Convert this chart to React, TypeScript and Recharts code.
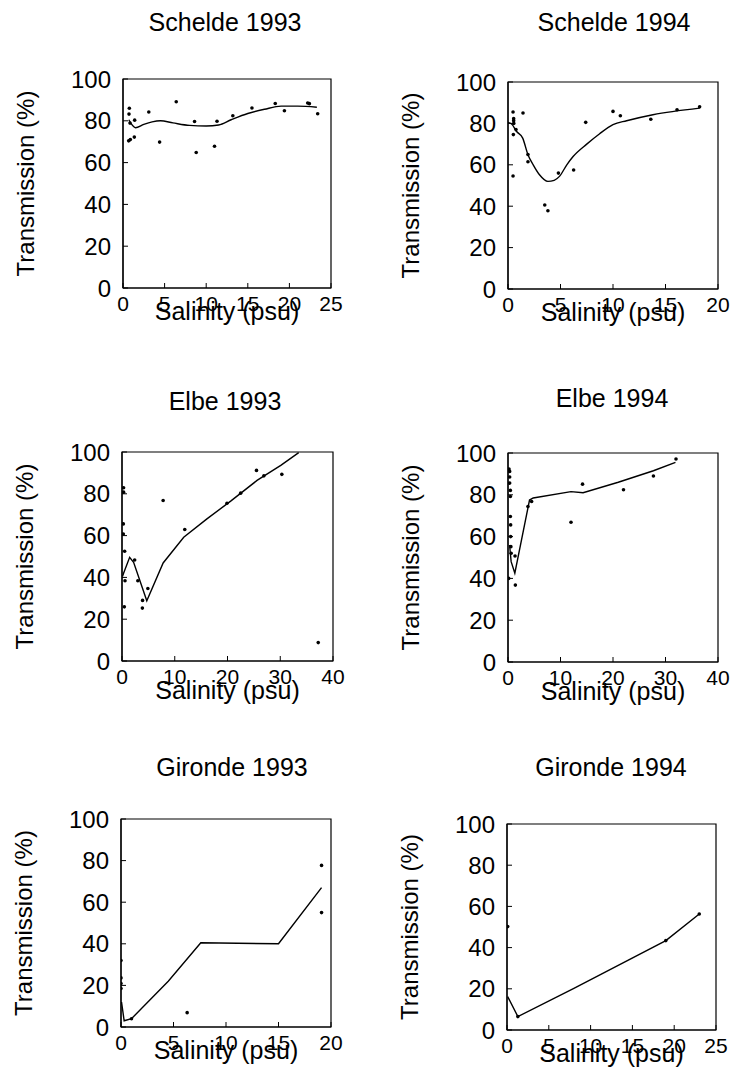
import React from "react";
import {
  ComposedChart, Scatter, Line, XAxis, YAxis, ReferenceArea, Label,
} from "recharts";

const SCHELDE_1993_OBS = [
  [0.76, 86], [0.72, 83.2], [0.84, 78.9], [0.68, 70.4], [0.88, 71], [1.4, 80.3],
  [1.36, 72.2], [3.1, 84.2], [4.4, 69.8], [6.4, 89.1], [8.6, 79.7], [8.8, 64.8],
  [11.3, 79.8], [11.0, 67.8], [13.2, 82.4], [15.5, 86.1], [18.3, 88.3], [19.4, 84.8],
  [22.2, 88.5], [22.4, 88.2], [23.4, 83.4],
];
const SCHELDE_1993_FIT = [
  [0.7, 80.5], [1.0, 78.5], [1.5, 76.7], [2.5, 78.3], [3.5, 79.5], [4.5, 80],
  [6, 79], [8, 77.8], [10, 77.5], [11.5, 78], [13, 80.5], [15, 83.5], [17, 85.5],
  [19, 87], [21, 87], [23.3, 86.5],
];

const SCHELDE_1994_OBS = [
  [0.48, 85.5], [0.54, 82.3], [0.54, 81.3], [0.55, 80], [0.51, 74.6], [0.48, 54.6],
  [0.76, 77], [1.43, 85], [1.9, 65], [1.9, 61.5], [3.5, 40.6], [3.8, 37.8],
  [4.8, 56], [6.25, 57.5], [7.4, 80.5], [10.0, 85.8], [10.7, 83.7], [13.6, 82],
  [16.1, 86.6], [18.25, 88],
];
const SCHELDE_1994_FIT = [
  [0, 80.5], [0.4, 79.4], [0.8, 76.2], [1.4, 72.9], [1.9, 64.9], [2.4, 60], [3.0, 55.2],
  [3.8, 52], [4.4, 52.5], [4.9, 54.4], [5.6, 60], [6.2, 64], [7.5, 70], [8.7, 74.9],
  [10, 79.4], [11.3, 81.3], [13.8, 84.2], [18.25, 87.4],
];

const ELBE_1993_OBS = [
  [0.3, 82.9], [0.3, 80.8], [0.25, 65.6], [0.25, 60.8], [0.5, 52.5], [0.57, 38.4],
  [0.44, 25.9], [2.4, 48.3], [3.0, 38.4], [3.9, 29], [3.86, 25.3], [4.9, 34.7],
  [7.8, 76.8], [11.9, 62.9], [19.9, 75.5], [22.5, 80.3], [25.5, 91.2], [26.9, 88.6],
  [30.3, 89.3], [37.2, 8.8],
];
const ELBE_1993_FIT = [
  [0.1, 40.5], [0.3, 42], [1.45, 49.6], [2.2, 47.2], [4.7, 28.8], [7.8, 46.9],
  [11.7, 59.2], [16.1, 68], [20.6, 76.5], [25.6, 86.4], [30.1, 93.6], [33.5, 99.7],
];

const ELBE_1994_OBS = [
  [0.19, 92.3], [0.32, 91.2], [0.32, 88.5], [0.32, 85.6], [0.45, 82.1], [0.45, 79.2],
  [0.45, 69.6], [0.5, 65.6], [0.5, 60], [0.55, 55.2], [0.6, 52], [1.34, 50.7],
  [1.4, 36.8], [0.13, 40], [3.8, 74.4], [4.5, 76.8], [12, 66.9], [14.2, 85.1],
  [22, 82.4], [27.7, 89], [32, 97.1],
];
const ELBE_1994_FIT = [
  [0.3, 56], [0.6, 48], [1.3, 42.5], [4.1, 77.5], [4.8, 78.5], [12, 81.5],
  [14.3, 81], [21, 86], [27.7, 91.5], [31.9, 95.5],
];

const GIRONDE_1993_OBS = [
  [0, 32], [0, 23.6], [0, 20.9], [0, 18.5], [1.0, 4.0], [6.3, 6.9], [19.1, 77.7], [19.1, 55],
];
const GIRONDE_1993_FIT = [
  [0.05, 12], [0.3, 3], [1, 4], [4.5, 22], [7.6, 40.5], [15, 40], [19.1, 67],
];

const GIRONDE_1994_OBS = [
  [0.08, 50.2], [1.3, 6.5], [19, 43.4], [23, 56.3],
];
const GIRONDE_1994_FIT = [
  [0.08, 16.2], [1.3, 6.5], [8, 20.2], [19, 43.4], [23, 56.3],
];

const Y_TICKS = [0, 20, 40, 60, 80, 100];
const X_TICKS_20 = [0, 5, 10, 15, 20];
const X_TICKS_25 = [0, 5, 10, 15, 20, 25];
const X_TICKS_40 = [0, 10, 20, 30, 40];

const FONT = '"Liberation Sans", Arial, Helvetica, sans-serif';

const toXY = (pts: number[][]) => pts.map(([x, y]) => ({ x, y }));

type Panel = {
  title: string;
  obs: number[][];
  fit: number[][];
  smooth: boolean;
  xMax: number;
  xTicks: number[];
  left: number; top: number; w: number; h: number;
  titleX: number; titleY: number;
  xLabelDy: number;
};

const PANELS: Panel[] = [
  { title: "Schelde 1993", obs: SCHELDE_1993_OBS, fit: SCHELDE_1993_FIT, smooth: true, xMax: 25, xTicks: X_TICKS_25,
    left: 123, top: 79, w: 208, h: 209, titleX: 225, titleY: 31, xLabelDy: 32 },
  { title: "Schelde 1994", obs: SCHELDE_1994_OBS, fit: SCHELDE_1994_FIT, smooth: true, xMax: 20, xTicks: X_TICKS_20,
    left: 508, top: 82, w: 210, h: 207, titleX: 614, titleY: 31, xLabelDy: 32 },
  { title: "Elbe 1993", obs: ELBE_1993_OBS, fit: ELBE_1993_FIT, smooth: false, xMax: 40, xTicks: X_TICKS_40,
    left: 122, top: 452, w: 211, h: 209, titleX: 225, titleY: 410, xLabelDy: 38 },
  { title: "Elbe 1994", obs: ELBE_1994_OBS, fit: ELBE_1994_FIT, smooth: false, xMax: 40, xTicks: X_TICKS_40,
    left: 508, top: 453, w: 210, h: 209, titleX: 612, titleY: 407, xLabelDy: 38 },
  { title: "Gironde 1993", obs: GIRONDE_1993_OBS, fit: GIRONDE_1993_FIT, smooth: false, xMax: 20, xTicks: X_TICKS_20,
    left: 121, top: 819, w: 210, h: 208, titleX: 232, titleY: 776, xLabelDy: 32 },
  { title: "Gironde 1994", obs: GIRONDE_1994_OBS, fit: GIRONDE_1994_FIT, smooth: false, xMax: 25, xTicks: X_TICKS_25,
    left: 507, top: 824, w: 209, h: 206, titleX: 611, titleY: 776, xLabelDy: 32 },
];

const Dot = (props: any) => {
  const { cx, cy } = props;
  if (cx == null || cy == null) return null;
  return <circle cx={cx} cy={cy} r={1.8} fill="#000" />;
};

const YAW = 122; // y axis band, wide enough for the rotated title
const XAH = 50;
const TOP = 20;

function SalinityPanel({ p }: { p: Panel }) {
  const width = YAW + p.w + 12;
  const height = TOP + p.h + XAH;
  return (
    <div style={{ position: "absolute", left: p.left - YAW, top: p.top - TOP }}>
      <ComposedChart width={width} height={height} margin={{ top: TOP, right: 12, bottom: 0, left: 0 }}>
        <XAxis
          type="number" dataKey="x" domain={[0, p.xMax]} ticks={p.xTicks} interval={0}
          allowDataOverflow height={XAH}
          tick={{ fill: "#000", fontSize: 21, fontFamily: FONT }}
          axisLine={{ stroke: "#000", strokeWidth: 1.2 }}
          tickLine={{ stroke: "#000" }} tickSize={-5} tickMargin={13}
        >
          <Label
            content={({ viewBox }: any) => (
              <text x={viewBox.x + viewBox.width / 2} y={viewBox.y + p.xLabelDy} textAnchor="middle"
                fontSize={25} fontFamily={FONT} fill="#000">Salinity (psu)</text>
            )}
          />
        </XAxis>
        <YAxis
          type="number" dataKey="y" domain={[0, 100]} ticks={Y_TICKS} interval={0}
          allowDataOverflow width={YAW}
          tick={{ fill: "#000", fontSize: 24, fontFamily: FONT }}
          axisLine={{ stroke: "#000", strokeWidth: 1.2 }}
          tickLine={{ stroke: "#000" }} tickSize={-5} tickMargin={17}
        >
          <Label
            content={({ viewBox }: any) => {
              const x = viewBox.x + viewBox.width - 89;
              const cy = viewBox.y + viewBox.height / 2;
              return (
                <text x={x} y={cy} transform={`rotate(-90, ${x}, ${cy})`} textAnchor="middle"
                  fontSize={24} fontFamily={FONT} fill="#000">Transmission (%)</text>
              );
            }}
          />
        </YAxis>
        <ReferenceArea x1={0} x2={p.xMax} y1={0} y2={100} fill="none" stroke="#000" strokeWidth={1.2} />
        <Scatter data={toXY(p.obs)} shape={<Dot />} isAnimationActive={false} />
        <Line data={toXY(p.fit)} dataKey="y" type={p.smooth ? "monotone" : "linear"}
          stroke="#000" strokeWidth={1.4} dot={false} activeDot={false} isAnimationActive={false} />
      </ComposedChart>
    </div>
  );
}

export default function App() {
  return (
    <div style={{ position: "absolute", left: 0, top: 0, width: 733, height: 1076, background: "#fff", fontFamily: FONT }}>
      {PANELS.map(p => <SalinityPanel key={p.title} p={p} />)}
      <svg width={733} height={1076} style={{ position: "absolute", left: 0, top: 0, pointerEvents: "none" }}>
        {PANELS.map(p => (
          <text key={p.title} x={p.titleX} y={p.titleY} textAnchor="middle" fontSize={25} fontFamily={FONT} fill="#000">
            {p.title}
          </text>
        ))}
      </svg>
    </div>
  );
}
